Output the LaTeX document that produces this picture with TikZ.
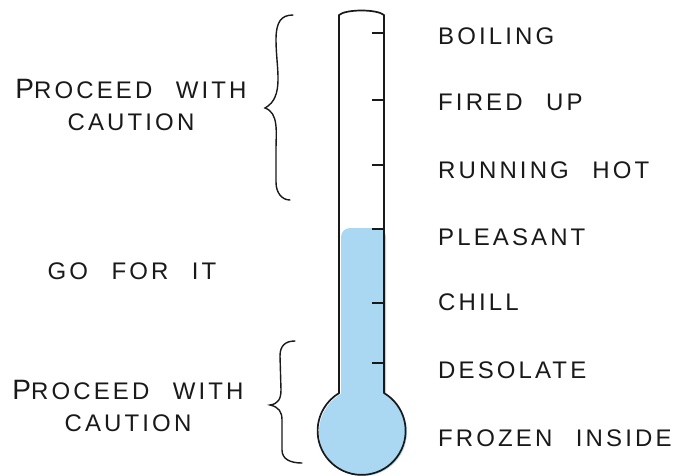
\documentclass[tikz,border=0pt]{standalone}
\usepackage{fontspec}
\setmainfont{Liberation Sans}[LetterSpace=13,WordSpace=2.4]
\definecolor{mercury}{RGB}{170,216,242}
\definecolor{ink}{RGB}{25,25,25}
\begin{document}
\begin{tikzpicture}[x=1pt,y=-1pt,
  outline/.style={draw=ink,line width=1.7pt,line join=round,line cap=round},
  tickmark/.style={draw=ink,line width=1.5pt},
  bracestroke/.style={draw=ink,line width=1.4pt,line cap=round},
  lbl/.style={inner sep=0pt,font=\fontsize{24}{27}\selectfont,text=ink},
  rlbl/.style={lbl,anchor=west},
  sidelbl/.style={lbl,align=center}]
\useasboundingbox (0,0) rectangle (675,475);
% mercury
\fill[mercury,rounded corners=9pt] (341,228) rectangle (386,405);
\fill[mercury] (363,432) circle[radius=44];
% glass outline
\draw[outline] (339,393) -- (339,15) .. controls (346,9) and (377,9) .. (384,15)
  -- (384,393) arc[start angle=-59.4,end angle=239.4,radius=44] -- cycle;
% ticks
\foreach \yy in {33,100,165,229,303,363}
  \draw[tickmark] (372,\yy) -- (384,\yy);
% braces
\draw[bracestroke] (293,15) .. controls (281,15) and (276,22) .. (276,40)
  .. controls (276,68) and (285,97) .. (265,108)
  .. controls (279,113) and (276,132) .. (276,150)
  -- (276,182) .. controls (276,193) and (282,200) .. (290,200);
\draw[bracestroke] (295,341) .. controls (285,341) and (280,346) .. (280,356)
  -- (281,390) .. controls (281,399) and (278,404) .. (270,405)
  .. controls (279,407) and (282,412) .. (282,420)
  -- (282,450) .. controls (282,459) and (290,463) .. (302,463);
% right labels
\node[rlbl] (boil) at (438,36) {BOILING};
\node[rlbl] (fired) at (438,102) {FIRED UP};
\node[rlbl] (hot) at (438,170) {RUNNING HOT};
\node[rlbl] (pleas) at (438,237) {PLEASANT};
\node[rlbl] (chill) at (438,302) {CHILL};
\node[rlbl] (deso) at (438,370) {DESOLATE};
\node[rlbl] (froz) at (438,438) {FROZEN INSIDE};
% left labels
\node[sidelbl] (cautop) at (131,105) {{\fontsize{28}{28}\selectfont P}ROCEED WITH\\[5pt]CAUTION};
\node[sidelbl] (go) at (132,271) {GO FOR IT};
\node[sidelbl] (caubot) at (128,406) {{\fontsize{28}{28}\selectfont P}ROCEED WITH\\[5pt]CAUTION};
\end{tikzpicture}
\end{document}
